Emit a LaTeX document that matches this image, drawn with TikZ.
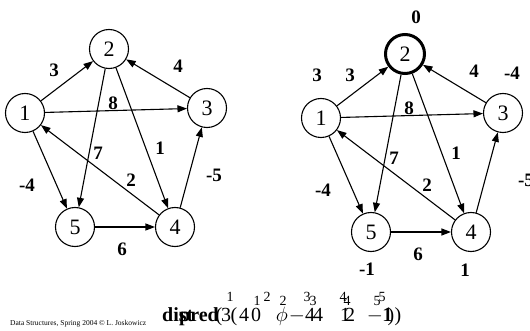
\documentclass[tikz,border=0pt]{standalone}
\usepackage{fontspec}
\setmainfont{Liberation Serif}
\usetikzlibrary{positioning,arrows.meta}
\tikzset{
  vertex/.style={circle,draw=black,line width=1.1pt,minimum size=39pt,inner sep=0pt,
    font=\fontsize{22}{22}\selectfont},
  source/.style={vertex,line width=3pt},
  edge/.style={line width=1.1pt,draw=black,-{Triangle[length=9.5pt,width=7pt]}},
  weight/.style={inner sep=0pt,font=\fontsize{19}{19}\selectfont\bfseries},
  idx/.style={inner sep=0pt,anchor=base,font=\fontsize{14}{14}\selectfont},
  val/.style={inner sep=0pt,anchor=base,font=\fontsize{20}{20}\selectfont}
}

\begin{document}
\begin{tikzpicture}[x=1pt,y=-1pt]
  \useasboundingbox (0,0) rectangle (530,331);
  % the same graph twice, the right one with node 2 as source
  \foreach \g/\dx/\dy/\mx/\st in {l/0/0/214/vertex,r/296/5/230/source}{
    \begin{scope}[shift={(\dx,\dy)}]
      \node[vertex] (\g1) at (25,113) {1};
      \node[\st]    (\g2) at (109,49) {2};
      \node[vertex] (\g3) at (207,108) {3};
      \node[vertex] (\g4) at (175,227) {4};
      \node[vertex] (\g5) at (75,227) {5};
      \draw[edge] (\g1) -- (\g2);
      \draw[edge] (\g3) -- (\g2);
      \draw[edge] (\g1) -- (\g3);
      \draw[edge] (\g2) -- (\g5);
      \draw[edge] (\g2) -- (\g4);
      \draw[edge] (\g4) -- (\g1);
      \draw[edge] (\g1) -- (\g5);
      \draw[edge] (\g4) -- (\g3);
      \draw[edge] (\g5) -- (\g4);
      \node[weight] (\g w12) at (54,70) {3};
      \node[weight] (\g w32) at (178,66) {4};
      \node[weight] (\g w13) at (113,103) {8};
      \node[weight] (\g w25) at (98,153) {7};
      \node[weight] (\g w24) at (160,148) {1};
      \node[weight] (\g w41) at (131,180) {2};
      \node[weight] (\g w15) at (27,185) {-4};
      \node[weight] (\g w43) at (\mx,175) {-5};
      \node[weight] (\g w54) at (122,249) {6};
    \end{scope}
  }
  % distances found from node 2
  \foreach \v/\px/\py/\k in {3/317/75/1,0/416/17/2,-4/512/73/3,1/465/270/4,-1/367/269/5}
    \node[weight] (d\k) at (\px,\py) {\v};
  % the two vectors, printed one over the other
  \node[val,anchor=base west,font=\fontsize{20}{20}\selectfont\bfseries] (dname) at (162,321) {dist};
  \node[val,anchor=base west,font=\fontsize{20}{20}\selectfont\bfseries] (pname) at (179,321) {pred};
  \foreach \s/\px [count=\k] in {{(}/219,3/226,0/256,$-$4/302,1/345,$-$1/380,{)}/391}
    \node[val] (dv\k) at (\px,321) {\s};
  \foreach \s/\px [count=\k] in {{(}/234,4/244,$\phi$/282,4/318,2/350,1/387,{)}/398}
    \node[val] (pv\k) at (\px,321) {\s};
  \foreach \px [count=\k] in {230,267,307,343,382}
    \node[idx] (pi\k) at (\px,301) {\k};
  \foreach \px [count=\k] in {257,283,313,347,377}
    \node[idx] (di\k) at (\px,305) {\k};
  \node[inner sep=0pt,anchor=base west,font=\fontsize{7.5}{8}\selectfont] (foot) at (10,325)
    {Data Structures, Spring 2004 \textcopyright\ L. Joskowicz};
\end{tikzpicture}
\end{document}
